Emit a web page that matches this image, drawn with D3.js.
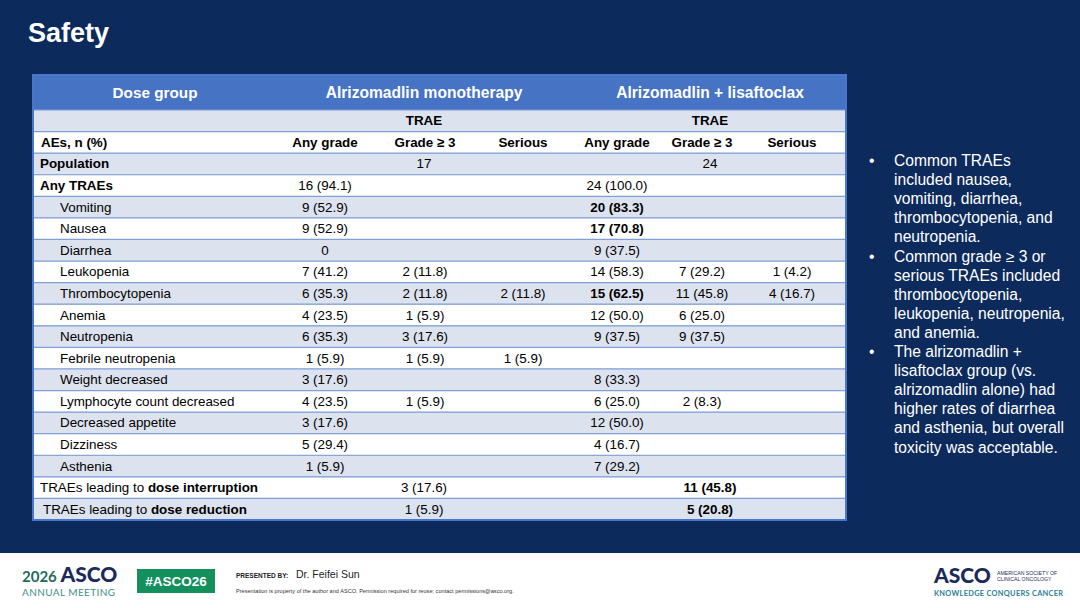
<!DOCTYPE html>
<meta charset="utf-8">
<head>
<style>
  body { margin: 0; background: #0c2b5c; }
  svg { display: block; font-family: "Liberation Sans", Arial, sans-serif; }
  .narrow { font-family: "Liberation Sans Narrow", "Liberation Sans", Arial, sans-serif; }
</style>
</head>
<body>
<script src="https://cdnjs.cloudflare.com/ajax/libs/d3/7.8.5/d3.min.js"></script>
<script>

const W = 1080, H = 608;

// table content
const groups = ["Alrizomadlin monotherapy", "Alrizomadlin + lisaftoclax"];
const columns = ["Any grade", "Grade \u2265 3", "Serious", "Any grade", "Grade \u2265 3", "Serious"];
const population = ["17", "24"];

const aeLabels = ["Any TRAEs", "Vomiting", "Nausea", "Diarrhea", "Leukopenia", "Thrombocytopenia",
  "Anemia", "Neutropenia", "Febrile neutropenia", "Weight decreased", "Lymphocyte count decreased",
  "Decreased appetite", "Dizziness", "Asthenia"];

const aeValues = [
  ["16 (94.1)", "", "", "24 (100.0)", "", ""],
  ["9 (52.9)", "", "", "20 (83.3)", "", ""],
  ["9 (52.9)", "", "", "17 (70.8)", "", ""],
  ["0", "", "", "9 (37.5)", "", ""],
  ["7 (41.2)", "2 (11.8)", "", "14 (58.3)", "7 (29.2)", "1 (4.2)"],
  ["6 (35.3)", "2 (11.8)", "2 (11.8)", "15 (62.5)", "11 (45.8)", "4 (16.7)"],
  ["4 (23.5)", "1 (5.9)", "", "12 (50.0)", "6 (25.0)", ""],
  ["6 (35.3)", "3 (17.6)", "", "9 (37.5)", "9 (37.5)", ""],
  ["1 (5.9)", "1 (5.9)", "1 (5.9)", "", "", ""],
  ["3 (17.6)", "", "", "8 (33.3)", "", ""],
  ["4 (23.5)", "1 (5.9)", "", "6 (25.0)", "2 (8.3)", ""],
  ["3 (17.6)", "", "", "12 (50.0)", "", ""],
  ["5 (29.4)", "", "", "4 (16.7)", "", ""],
  ["1 (5.9)", "", "", "7 (29.2)", "", ""]
];

// highlighted cells [row, col]
const boldCells = [[1, 3], [2, 3], [5, 3]];
// rows set in the condensed face on the slide
const narrowRows = ["Decreased appetite", "Dizziness", "Asthenia"];

const doseLabels = [["TRAEs leading to ", "dose interruption"], ["TRAEs leading to ", "dose reduction"]];
const doseValues = [["3 (17.6)", "11 (45.8)"], ["1 (5.9)", "5 (20.8)"]];

const bullets = [
  ["Common TRAEs", "included nausea,", "vomiting, diarrhea,", "thrombocytopenia, and", "neutropenia."],
  ["Common grade \u2265 3 or", "serious TRAEs included", "thrombocytopenia,", "leukopenia, neutropenia,", "and anemia."],
  ["The alrizomadlin +", "lisaftoclax group (vs.", "alrizomadlin alone) had", "higher rates of diarrhea", "and asthenia, but overall", "toxicity was acceptable."]
];

const navy = "#0c2b5c", headBlue = "#4673c4", stripe = "#dce2ee", rule = "#7f9fd6";

const svg = d3.select("body").append("svg")
  .attr("width", W).attr("height", H);

svg.append("rect").attr("width", W).attr("height", H).attr("fill", navy);

svg.append("text")
  .attr("x", 28).attr("y", 42)
  .attr("fill", "#fff").attr("font-size", 27).attr("font-weight", "bold")
  .text("Safety");

// ---- table ----
const tLeft = 33, tRight = 846, tTop = 75, headBottom = 110, tBottom = 520;

const nRows = 2 + 1 + aeLabels.length + doseLabels.length;
const y = d3.scaleBand().domain(d3.range(nRows)).range([headBottom, tBottom]);
const xCol = d3.scaleOrdinal().domain(d3.range(6)).range([325, 425, 523, 617, 702, 792]);
const xGroup = d3.scaleOrdinal().domain([0, 1]).range([424, 710]);

const table = svg.append("g");

// header band
table.append("rect")
  .attr("x", tLeft).attr("y", tTop).attr("width", tRight - tLeft).attr("height", headBottom - tTop)
  .attr("fill", headBlue);

table.append("text")
  .attr("x", 155).attr("y", (tTop + headBottom) / 2 + 5.5)
  .attr("text-anchor", "middle").attr("fill", "#fff")
  .attr("font-size", 15.3).attr("font-weight", "bold")
  .text("Dose group");

table.selectAll("text.group").data(groups).join("text")
  .attr("class", "group")
  .attr("x", (d, i) => xGroup(i)).attr("y", (tTop + headBottom) / 2 + 5.5)
  .attr("text-anchor", "middle").attr("fill", "#fff")
  .attr("font-size", 15.6).attr("font-weight", "bold")
  .text(d => d);

// row stripes
table.selectAll("rect.row").data(d3.range(nRows)).join("rect")
  .attr("class", "row")
  .attr("x", tLeft).attr("width", tRight - tLeft)
  .attr("y", d => y(d)).attr("height", y.bandwidth())
  .attr("fill", d => d % 2 === 0 ? stripe : "#fff");

// row rules
table.selectAll("line.rule").data(d3.range(nRows)).join("line")
  .attr("class", "rule")
  .attr("x1", tLeft).attr("x2", tRight)
  .attr("y1", d => y(d)).attr("y2", d => y(d))
  .attr("stroke", rule).attr("stroke-width", 1.2);

const base = i => y(i) + y.bandwidth() / 2 + 4.5;
const fs = 13.4;

// TRAE row
table.selectAll("text.trae").data(groups).join("text")
  .attr("class", "trae")
  .attr("x", (d, i) => xGroup(i)).attr("y", base(0))
  .attr("text-anchor", "middle").attr("font-size", fs).attr("font-weight", "bold")
  .text("TRAE");

// column headings
table.append("text")
  .attr("x", 41).attr("y", base(1))
  .attr("font-size", fs).attr("font-weight", "bold")
  .text("AEs, n (%)");

table.selectAll("text.col").data(columns).join("text")
  .attr("class", "col")
  .attr("x", (d, i) => xCol(i)).attr("y", base(1))
  .attr("text-anchor", "middle").attr("font-size", fs).attr("font-weight", "bold")
  .text(d => d);

// population
table.append("text")
  .attr("x", 40).attr("y", base(2))
  .attr("font-size", fs).attr("font-weight", "bold")
  .text("Population");

table.selectAll("text.pop").data(population).join("text")
  .attr("class", "pop")
  .attr("x", (d, i) => xGroup(i)).attr("y", base(2))
  .attr("text-anchor", "middle").attr("font-size", fs)
  .text(d => d);

// AE rows
const aeRowsG = table.selectAll("g.ae").data(aeLabels).join("g")
  .attr("class", d => narrowRows.includes(d) ? "ae narrow" : "ae");

aeRowsG.append("text")
  .attr("x", (d, i) => i === 0 ? 40 : 60)
  .attr("y", (d, i) => base(3 + i))
  .attr("font-size", fs)
  .attr("font-weight", (d, i) => i === 0 ? "bold" : "normal")
  .text(d => d);

aeRowsG.each(function(label, r) {
  d3.select(this).selectAll("text.val").data(aeValues[r]).join("text")
    .attr("class", "val")
    .attr("x", (d, c) => xCol(c)).attr("y", base(3 + r))
    .attr("text-anchor", "middle").attr("font-size", fs)
    .attr("font-weight", (d, c) => boldCells.some(b => b[0] === r && b[1] === c) ? "bold" : "normal")
    .text(d => d);
});

// dose modification rows
const doseG = table.selectAll("g.dose").data(doseLabels).join("g")
  .attr("class", "dose narrow");

doseG.append("text")
  .attr("x", (d, i) => 40 + i * 3)
  .attr("y", (d, i) => base(3 + aeLabels.length + i))
  .attr("font-size", fs)
  .call(t => t.append("tspan").text(d => d[0]))
  .call(t => t.append("tspan").attr("font-weight", "bold").text(d => d[1]));

doseG.each(function(label, r) {
  d3.select(this).selectAll("text.val").data(doseValues[r]).join("text")
    .attr("class", "val")
    .attr("x", (d, g) => xGroup(g)).attr("y", base(3 + aeLabels.length + r))
    .attr("text-anchor", "middle").attr("font-size", fs)
    .attr("font-weight", (d, g) => g === 1 ? "bold" : "normal")
    .text(d => d);
});

// outer frame
table.append("rect")
  .attr("x", tLeft).attr("y", tTop).attr("width", tRight - tLeft).attr("height", tBottom - tTop)
  .attr("fill", "none").attr("stroke", "#4a78c8").attr("stroke-width", 2);

// ---- bullets ----
const lineH = 19.1;
let line = 0;
const bg = svg.append("g").attr("fill", "#fff").attr("font-size", 15.6);
bullets.forEach(lines => {
  bg.append("text").attr("x", 869).attr("y", 166 + line * lineH).text("\u2022");
  lines.forEach(l => {
    bg.append("text").attr("x", 894).attr("y", 166 + line * lineH).text(l);
    line++;
  });
});

// ---- footer ----
const foot = svg.append("g");
foot.append("rect").attr("x", 0).attr("y", 553).attr("width", W).attr("height", H - 553).attr("fill", "#fff");

foot.append("text").attr("x", 22).attr("y", 582)
  .attr("font-family", "Lato, 'Open Sans', sans-serif")
  .call(t => t.append("tspan").attr("fill", "#1f6b5e").attr("font-size", 15).attr("font-weight", "bold").text("2026 "))
  .call(t => t.append("tspan").attr("fill", "#1b2a59").attr("font-size", 21).attr("font-weight", "900").text("ASCO"));
foot.append("text").attr("x", 22).attr("y", 596)
  .attr("font-family", "Lato, 'Open Sans', sans-serif")
  .attr("fill", "#3f8f86").attr("font-size", 10).attr("letter-spacing", 0.4)
  .text("ANNUAL MEETING");

foot.append("rect").attr("x", 137).attr("y", 569).attr("width", 78).attr("height", 24).attr("fill", "#14905f");
foot.append("text").attr("x", 176).attr("y", 586).attr("text-anchor", "middle")
  .attr("fill", "#fff").attr("font-size", 13.5).attr("font-weight", "bold")
  .text("#ASCO26");

foot.append("text").attr("x", 236).attr("y", 578)
  .attr("fill", "#222").attr("font-size", 6.5).attr("font-weight", "bold")
  .text("PRESENTED BY:");
foot.append("text").attr("x", 296).attr("y", 578)
  .attr("fill", "#222").attr("font-size", 10.5)
  .text("Dr. Feifei Sun");
foot.append("text").attr("x", 236).attr("y", 593)
  .attr("fill", "#333").attr("font-size", 5.6)
  .text("Presentation is property of the author and ASCO. Permission required for reuse; contact permissions@asco.org.");

foot.append("text").attr("x", 934).attr("y", 583)
  .attr("font-family", "Lato, 'Open Sans', sans-serif")
  .attr("fill", "#1b2a59").attr("font-size", 21).attr("font-weight", "900")
  .text("ASCO");
foot.append("text").attr("x", 997).attr("y", 575)
  .attr("fill", "#1b2a59").attr("font-size", 5.2).text("AMERICAN SOCIETY OF");
foot.append("text").attr("x", 997).attr("y", 581)
  .attr("fill", "#1b2a59").attr("font-size", 5.2).text("CLINICAL ONCOLOGY");
foot.append("text").attr("x", 934).attr("y", 596)
  .attr("font-family", "Lato, 'Open Sans', sans-serif")
  .attr("fill", "#2b7f95").attr("font-size", 7.4).attr("font-weight", "bold").attr("letter-spacing", 0.3)
  .text("KNOWLEDGE CONQUERS CANCER");

</script>
</body>
